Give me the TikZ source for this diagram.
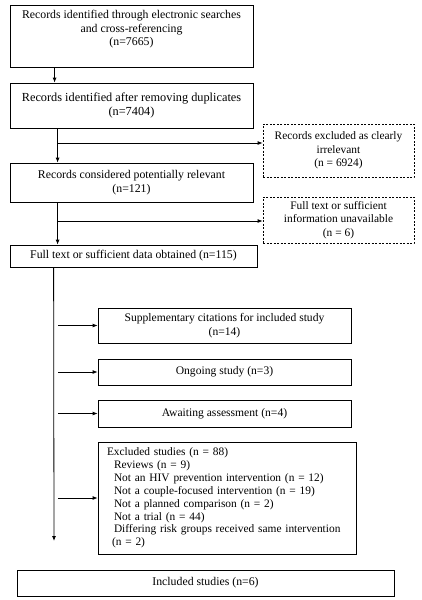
\documentclass[tikz,border=0pt]{standalone}
\usepackage{fontspec}
\setmainfont{Liberation Serif}
\usetikzlibrary{arrows.meta}

\begin{document}
\begin{tikzpicture}[x=1pt,y=-1pt,>={Latex[length=5pt,width=4pt]},
    box/.style={draw,line width=0.8pt,align=center,inner sep=1pt,
      font=\fontsize{11.8}{13.6}\selectfont},
    dbox/.style={box,dash pattern=on 2pt off 1.5pt,
      font=\fontsize{11.4}{13.5}\selectfont},
    conn/.style={line width=0.8pt}]
  \useasboundingbox (0,0) rectangle (421,600);
  % left column
  \node[box,inner sep=5pt,anchor=north] (rec) at (131.5,5) %
    {\parbox[t][52pt][t]{233pt}{\centering
      Records identified through electronic searches\\
      and cross-referencing\\(n=7665)}};
  \node[box,minimum width=243,minimum height=45,font=\fontsize{12.3}{14}\selectfont] %
    (dup) at (131.5,105.5) {Records identified after removing duplicates\\(n=7404)};
  \node[box,minimum width=243,minimum height=39] (rel) at (131.5,182.5) %
    {Records considered potentially relevant\\(n=121)};
  \node[box,minimum width=247,minimum height=22] (full) at (133.5,256) %
    {Full text or sufficient data obtained (n=115)};
  % excluded on the right
  \node[dbox,minimum width=151,minimum height=53] (ex1) at (338.5,150.5) %
    {Records excluded as clearly\\irrelevant\\(n = 6924)};
  \node[dbox,minimum width=151,minimum height=46] (ex2) at (338.5,220) %
    {Full text or sufficient\\information unavailable\\(n = 6)};
  % after full text
  \node[box,minimum width=253,minimum height=35,font=\fontsize{11.6}{14}\selectfont] %
    (supp) at (224.5,325.5) {Supplementary citations for included study\\(n=14)};
  \node[box,minimum width=253,minimum height=26,font=\fontsize{11.6}{14}\selectfont] %
    (ong) at (224.5,372) {Ongoing study (n=3)};
  \node[box,minimum width=253,minimum height=27,font=\fontsize{11.6}{14}\selectfont] %
    (wait) at (224.5,413.5) {Awaiting assessment (n=4)};
  \node[box,align=left,text width=240pt,inner xsep=9pt,minimum height=112,
    font=\fontsize{11.4}{12.85}\selectfont] (excl) at (227,498) %
    {Excluded studies (n = 88)\\
     \hspace*{7pt}Reviews (n = 9)\\
     \hspace*{7pt}Not an HIV prevention intervention (n = 12)\\
     \hspace*{7pt}Not a couple-focused intervention (n = 19)\\
     \hspace*{7pt}Not a planned comparison (n = 2)\\
     \hspace*{7pt}Not a trial (n = 44)\\
     \hspace*{7pt}Differing risk groups received same intervention\\
     \hspace*{5pt}(n = 2)};
  \node[box,minimum width=377,minimum height=26] (incl) at (205.5,583) %
    {Included studies (n=6)};
  % connectors
  \draw[->,conn] ([xshift=45]rec.south west) -- ([xshift=45]dup.north west);
  \draw[->,conn] ([xshift=48]dup.south west) -- ([xshift=48]rel.north west);
  \coordinate (b1) at (58,143);
  \draw[->,conn] (b1) -- (b1 -| ex1.west);
  \draw[->,conn] ([xshift=48]rel.south west) -- ([xshift=48]full.north west);
  \coordinate (b2) at (58,221);
  \draw[->,conn] (b2) -- (b2 -| ex2.west);
  \coordinate (tip) at (54,541);
  \draw[->,conn] ([xshift=44]full.south west) -- (tip);
  \foreach \n in {supp,ong,wait,excl}
    \draw[->,conn] (\n.west -| 58,0) -- (\n.west);
\end{tikzpicture}
\end{document}
